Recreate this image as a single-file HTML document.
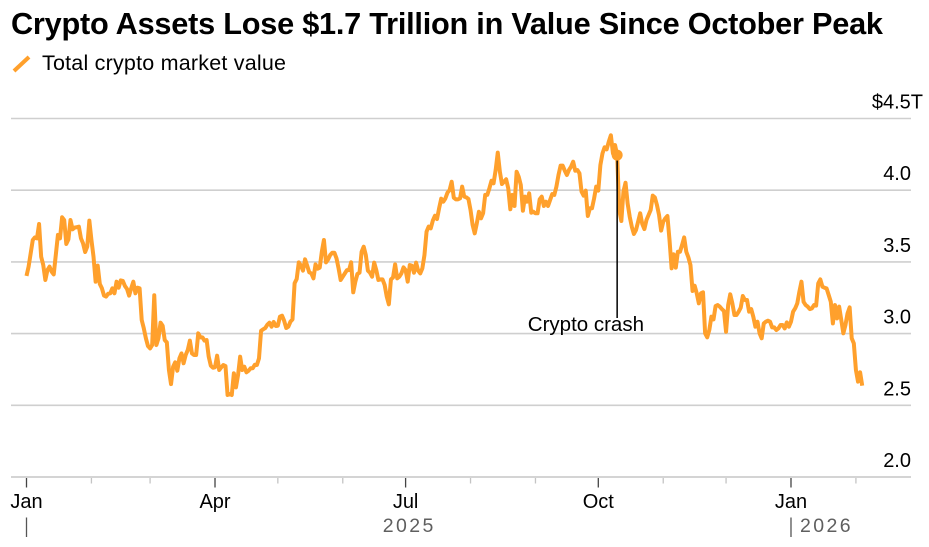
<!DOCTYPE html>
<html lang="en">
<head>
<meta charset="utf-8">
<title>Crypto Assets Lose $1.7 Trillion in Value Since October Peak</title>
<style>
html,body{margin:0;padding:0;background:#fff;width:929px;height:547px;overflow:hidden}
svg{display:block;font-family:"Liberation Sans",sans-serif}
</style>
</head>
<body>
<svg id="chart" width="929" height="547" viewBox="0 0 929 547" xmlns="http://www.w3.org/2000/svg">
  <rect width="929" height="547" fill="#fff"/>
  <text x="11" y="34" font-size="30.7" font-weight="700" fill="#000" textLength="872" lengthAdjust="spacing">Crypto Assets Lose $1.7 Trillion in Value Since October Peak</text>
  <line x1="14" y1="71" x2="29" y2="57" stroke="#ffa02c" stroke-width="4"/>
  <text x="42" y="70" font-size="21.5" fill="#000" textLength="244" lengthAdjust="spacing">Total crypto market value</text>
  <g id="grid"></g>
  <g id="yLabels"></g>
  <line x1="11" y1="477" x2="911" y2="477" stroke="#d4d4d4" stroke-width="2"/>
  <g id="xTicks"></g>
  <g id="years"></g>
  <polyline id="series" fill="none" stroke="#ffa02c" stroke-width="4" stroke-linejoin="round" stroke-linecap="butt"/>
  <g id="annotation"></g>
  <circle id="crashDot" r="5.5" fill="#ffa02c"/>
</svg>
<script>
// Daily total crypto market value in $ trillions, starting 2025-01-01
const marketValues = [
3.402,3.467,3.560,3.653,3.671,3.664,3.764,3.536,3.478,3.374,
3.443,3.467,3.432,3.413,3.550,3.688,3.664,3.811,3.792,3.625,
3.657,3.792,3.727,3.739,3.742,3.746,3.664,3.629,3.569,3.606,
3.788,3.653,3.536,3.362,3.474,3.346,3.316,3.265,3.258,3.278,
3.281,3.316,3.281,3.362,3.320,3.371,3.367,3.332,3.311,3.265,
3.316,3.362,3.281,3.320,3.316,3.095,3.037,2.967,2.913,2.897,
2.920,3.267,2.920,2.967,3.076,3.055,2.955,2.939,2.746,2.648,
2.769,2.800,2.741,2.827,2.862,2.793,2.851,2.886,2.951,2.862,
2.851,2.851,3.002,2.974,2.974,2.951,2.955,2.839,2.776,2.762,
2.765,2.846,2.746,2.765,2.781,2.774,2.572,2.579,2.572,2.723,
2.625,2.711,2.839,2.746,2.769,2.730,2.741,2.758,2.758,2.783,
2.781,2.827,3.020,3.030,3.039,3.062,3.076,3.048,3.081,3.053,
3.055,3.118,3.125,3.090,3.039,3.048,3.083,3.099,3.351,3.381,
3.497,3.474,3.439,3.518,3.474,3.427,3.420,3.385,3.483,3.453,
3.460,
3.571,3.653,3.497,3.518,3.548,3.564,3.564,3.525,3.455,3.374,
3.397,3.420,3.443,3.443,3.497,3.288,3.362,3.416,3.425,3.571,
3.606,3.548,3.439,3.425,3.397,3.495,3.443,3.374,3.378,3.378,
3.339,3.258,3.204,3.378,3.392,3.483,3.385,3.397,3.420,3.462,
3.443,3.362,3.478,3.474,3.425,3.495,3.439,3.420,3.455,3.548,
3.711,3.746,3.734,3.788,3.822,3.799,3.874,3.941,3.920,3.943,
3.983,4.001,4.059,3.948,3.936,3.936,3.943,4.025,3.955,3.950,
3.939,3.862,3.757,3.699,3.769,3.850,3.804,3.839,3.967,3.967,
4.013,4.066,4.048,4.141,4.262,4.129,4.043,4.059,4.076,4.013,
3.867,3.967,3.890,4.129,4.094,4.036,3.857,3.955,3.920,3.978,
3.843,3.850,3.839,3.839,3.936,3.955,3.890,3.920,3.890,3.932,
3.973,3.967,4.025,4.106,4.171,4.171,4.136,4.106,4.141,4.164,
4.199,4.136,4.141,4.118,3.990,3.962,3.997,3.820,3.874,3.874,
3.943,4.025,3.997,4.176,4.257,4.299,4.285,4.338,4.383,
4.257,4.315,4.245,3.862,3.785,3.990,
4.052,3.908,3.815,3.745,3.695,3.722,3.780,3.839,3.764,3.729,
3.792,3.827,3.862,3.962,3.950,3.897,3.827,3.718,3.780,3.804,
3.820,3.653,3.455,3.553,3.460,3.571,3.571,3.618,3.671,3.571,
3.532,3.478,3.297,3.334,3.281,3.211,3.281,3.288,
3.002,2.974,3.025,3.118,3.099,3.192,3.199,3.188,3.171,3.157,
3.013,3.199,3.274,3.211,3.130,3.130,3.153,3.181,3.262,3.234,
3.234,3.153,3.171,3.118,3.048,3.083,3.002,2.967,3.071,3.083,
3.090,3.083,3.043,3.043,3.025,3.036,3.060,3.060,3.036,3.078,
3.048,3.083,3.153,3.176,3.211,3.292,3.362,3.222,3.199,3.188,
3.171,3.176,3.199,3.195,3.350,3.378,3.327,3.320,3.315,3.269,
3.222,3.071,3.199,3.106,3.188,3.095,3.002,3.060,3.141,3.183,
2.967,2.932,2.746,2.665,2.730,2.637
];
const yTickValues = [4.5, 4.0, 3.5, 3.0, 2.5, 2.0];
const yTickLabels = ["$4.5T", "4.0", "3.5", "3.0", "2.5", "2.0"];
const monthTickDays = [0, 31, 59, 90, 120, 151, 181, 212, 243, 273, 304, 334, 365, 396];
const monthTickLabels = ["Jan", "", "", "Apr", "", "", "Jul", "", "", "Oct", "", "", "Jan", ""];
const yearTickDays = [0, 365];
const yearLabels = ["2025", "2026"];
const crashDay = 282;
const crashLabel = "Crypto crash";

const NS = "http://www.w3.org/2000/svg";
function xScale(day) { return 26.5 + day * 2.0945; }
function yScale(v) { return 477 - (v - 2.0) * 143.4; }
function make(tag, attrs, parent, text) {
  const el = document.createElementNS(NS, tag);
  for (const k in attrs) el.setAttribute(k, attrs[k]);
  if (text !== undefined) el.textContent = text;
  parent.appendChild(el);
  return el;
}

const grid = document.getElementById("grid");
const yLabels = document.getElementById("yLabels");
yTickValues.forEach(function (v, i) {
  if (v > 2.0) {
    const g = make("line", { x1: 11, x2: 911, y1: yScale(v), y2: yScale(v), stroke: "#cfcfcf", "stroke-width": 1.6 }, grid);
    
    
  }
  const labelRight = yTickLabels[i].indexOf("T") >= 0 ? 923 : 911;
  const t = make("text", { x: labelRight, y: yScale(v) - 10, "text-anchor": "end", "font-size": 20, fill: "#000" }, yLabels, yTickLabels[i]);
  
  
});

const xTicks = document.getElementById("xTicks");
monthTickDays.forEach(function (d, i) {
  const major = monthTickLabels[i] !== "";
  const tick = make("line", { x1: xScale(d), x2: xScale(d), y1: 478, y2: major ? 487.5 : 483.5, stroke: major ? "#444" : "#c4c4c4", "stroke-width": 1.3 }, xTicks);
  
  
  if (major) {
    const lab = make("text", { x: xScale(d), y: 508, "text-anchor": "middle", "font-size": 20, fill: "#000" }, xTicks, monthTickLabels[i]);
    
    
  }
});

const years = document.getElementById("years");
yearTickDays.forEach(function (d) {
  const yt = make("line", { x1: xScale(d), x2: xScale(d), y1: 517.5, y2: 537, stroke: "#555", "stroke-width": 1.3 }, years);
  
  
});
const year2025 = make("text", { x: (xScale(yearTickDays[0]) + xScale(yearTickDays[1])) / 2 + 0.5, y: 532, "text-anchor": "middle", "font-size": 19.5, fill: "#5f5f5f", "letter-spacing": 2.4 }, years, yearLabels[0]);


const year2026 = make("text", { x: xScale(yearTickDays[1]) + 9, y: 532, "font-size": 19.5, fill: "#5f5f5f", "letter-spacing": 2.4 }, years, yearLabels[1]);



const ann = document.getElementById("annotation");
const annLine = make("line", { x1: xScale(crashDay), x2: xScale(crashDay), y1: yScale(marketValues[crashDay]), y2: 318, stroke: "#000", "stroke-width": 1.5 }, ann);


const annText = make("text", { x: 644, y: 331, "text-anchor": "end", "font-size": 20.5, fill: "#000" }, ann, crashLabel);



document.getElementById("series").setAttribute("points",
  marketValues.map(function (v, i) { return xScale(i).toFixed(2) + "," + yScale(v).toFixed(2); }).join(" "));
const dot = document.getElementById("crashDot");
dot.setAttribute("cx", xScale(crashDay));
dot.setAttribute("cy", yScale(marketValues[crashDay]));
</script>
</body>
</html>
